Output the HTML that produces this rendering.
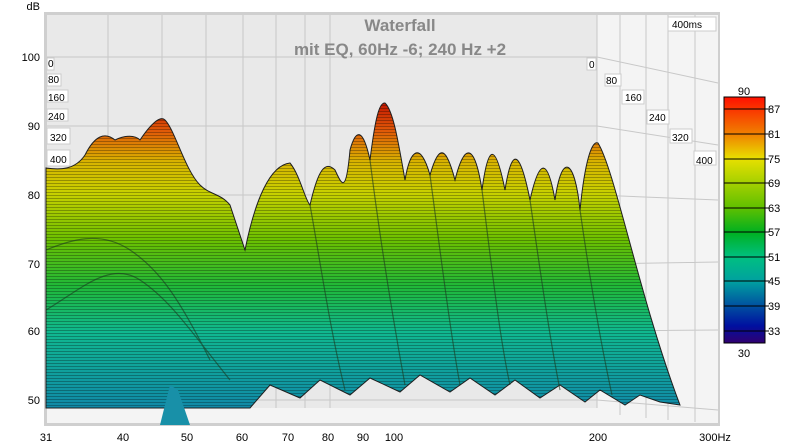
<!DOCTYPE html><html><head><meta charset="utf-8"><style>body{margin:0;background:#fff}svg{display:block;font-family:"Liberation Sans",sans-serif}</style></head><body>
<svg width="800" height="446" viewBox="0 0 800 446">
<defs>
<linearGradient id="g" gradientUnits="userSpaceOnUse" x1="0" y1="100" x2="0" y2="410">
<stop offset="0" stop-color="#c01000"/><stop offset="0.1" stop-color="#e05a08"/><stop offset="0.2" stop-color="#d8b400"/><stop offset="0.3" stop-color="#c8d000"/><stop offset="0.45" stop-color="#6cc000"/><stop offset="0.6" stop-color="#20b838"/><stop offset="0.75" stop-color="#10b890"/><stop offset="1" stop-color="#1088a8"/>
</linearGradient>
<linearGradient id="cb" x1="0" y1="0" x2="0" y2="1">
<stop offset="0" stop-color="#ff1000"/><stop offset="0.15" stop-color="#f08000"/><stop offset="0.25" stop-color="#e8e000"/><stop offset="0.45" stop-color="#60c000"/><stop offset="0.55" stop-color="#00b020"/><stop offset="0.65" stop-color="#00c080"/><stop offset="0.75" stop-color="#00a0a0"/><stop offset="0.85" stop-color="#0050a0"/><stop offset="0.93" stop-color="#0010a0"/><stop offset="1" stop-color="#300070"/>
</linearGradient>
<pattern id="st" width="4" height="3" patternUnits="userSpaceOnUse"><rect width="4" height="1" fill="#000" opacity="0.28"/></pattern>
</defs>
<rect x="44" y="12" width="676" height="414" fill="#cfcfcf"/>
<rect x="47" y="15" width="671" height="408" fill="#f4f4f4"/>
<polygon points="47,15 597,15 597,408 47,408" fill="#e9e9e9"/>
<g stroke="#c8c8c8" stroke-width="1" fill="none">
<path d="M47,57H597M47,126H597M47,195H597M47,264H597M47,331H597M47,400H597"/>
<path d="M108,15V408M162,15V408M206,15V408M243,15V408M276,15V408M305,15V408M330,15V408M597,15V408"/>
<path d="M597,57L718,83M597,126L718,145M597,195L718,200M597,264L718,262M597,331L718,330M597,400L718,410M620,15V415M646,15V418M668,15V420M695,15V422"/>
</g>
<text x="400" y="31" font-size="17" font-weight="bold" fill="#888" text-anchor="middle">Waterfall</text>
<text x="400" y="55" font-size="17" font-weight="bold" fill="#888" text-anchor="middle">mit EQ, 60Hz -6; 240 Hz +2</text>
<path d="M46,408 L46,168 C60,170 75,170 85,155 C95,135 105,132 115,140 C125,135 135,135 140,140 C150,125 160,115 165,120 C175,130 185,170 200,185 C210,195 220,193 230,205 L245,250 C255,200 270,165 290,163 C300,175 305,200 310,205 C318,170 325,160 335,170 C342,185 346,195 350,150 C356,128 363,128 370,160 C375,120 379,102 385,103 C393,110 398,140 405,180 C410,150 420,140 430,175 C440,140 447,150 455,180 C465,140 475,145 482,190 C488,145 495,140 505,190 C512,145 520,150 530,200 C540,155 548,160 555,200 C562,150 575,160 580,210 C585,160 592,140 598,143 C615,170 640,300 680,405 L660,402 L640,395 L625,405 L600,390 L585,402 L560,385 L540,398 L515,380 L495,395 L470,378 L450,392 L420,375 L400,392 L370,378 L350,395 L320,380 L300,398 L270,385 L250,408 Z" fill="url(#g)" stroke="#202020" stroke-width="1"/>
<path d="M46,408 L46,168 C60,170 75,170 85,155 C95,135 105,132 115,140 C125,135 135,135 140,140 C150,125 160,115 165,120 C175,130 185,170 200,185 C210,195 220,193 230,205 L245,250 C255,200 270,165 290,163 C300,175 305,200 310,205 C318,170 325,160 335,170 C342,185 346,195 350,150 C356,128 363,128 370,160 C375,120 379,102 385,103 C393,110 398,140 405,180 C410,150 420,140 430,175 C440,140 447,150 455,180 C465,140 475,145 482,190 C488,145 495,140 505,190 C512,145 520,150 530,200 C540,155 548,160 555,200 C562,150 575,160 580,210 C585,160 592,140 598,143 C615,170 640,300 680,405 L660,402 L640,395 L625,405 L600,390 L585,402 L560,385 L540,398 L515,380 L495,395 L470,378 L450,392 L420,375 L400,392 L370,378 L350,395 L320,380 L300,398 L270,385 L250,408 Z" fill="url(#st)"/>
<g fill="none" stroke="#1a3a20" stroke-width="1.2" opacity="0.6">
<path d="M46,310 C80,290 110,260 140,280 C170,300 190,330 230,380"/>
<path d="M46,250 C70,240 100,230 130,250 C160,270 180,300 210,360"/>
<path d="M310,205 C320,260 330,330 345,390M370,160 C380,240 395,330 405,385M430,175 C440,250 450,330 460,385M482,190 C492,270 500,340 510,385M530,200 C540,270 550,340 560,390M580,210 C590,280 600,340 612,395"/>
</g>
<path d="M160,425 L170,385 L178,390 L190,425 Z" fill="#1890a8"/>
<g font-size="11" fill="#000">
<text x="40" y="10" text-anchor="end">dB</text>
<text x="40" y="61" text-anchor="end">100</text><text x="40" y="130" text-anchor="end">90</text><text x="40" y="199" text-anchor="end">80</text><text x="40" y="268" text-anchor="end">70</text><text x="40" y="335" text-anchor="end">60</text><text x="40" y="404" text-anchor="end">50</text>
<text x="46" y="441" text-anchor="middle">31</text><text x="123" y="441" text-anchor="middle">40</text><text x="187" y="441" text-anchor="middle">50</text><text x="242" y="441" text-anchor="middle">60</text><text x="288" y="441" text-anchor="middle">70</text><text x="328" y="441" text-anchor="middle">80</text><text x="363" y="441" text-anchor="middle">90</text><text x="394" y="441" text-anchor="middle">100</text><text x="598" y="441" text-anchor="middle">200</text><text x="715" y="441" text-anchor="middle">300Hz</text>
</g>
<g font-size="10" fill="#000" stroke="none">
<rect x="47" y="58" width="7" height="12" fill="#fff" stroke="#ccc"/><text x="48" y="67">0</text>
<rect x="47" y="74" width="14" height="12" fill="#fff" stroke="#ccc"/><text x="48" y="83">80</text>
<rect x="47" y="90" width="21" height="12" fill="#fff" stroke="#ccc"/><text x="48" y="101">160</text>
<rect x="47" y="109" width="21" height="12" fill="#fff" stroke="#ccc"/><text x="48" y="120">240</text>
<rect x="47" y="128" width="23" height="16" fill="#fff" stroke="#ccc"/><text x="50" y="141">320</text>
<rect x="47" y="150" width="23" height="16" fill="#fff" stroke="#ccc"/><text x="50" y="163">400</text>
<rect x="668" y="17" width="48" height="14" fill="#fff" stroke="#ccc"/><text x="672" y="28">400ms</text>
<rect x="587" y="58" width="9" height="12" fill="#fff" stroke="#ccc"/><text x="589" y="68">0</text>
<rect x="605" y="74" width="16" height="12" fill="#fff" stroke="#ccc"/><text x="606" y="84">80</text>
<rect x="622" y="90" width="22" height="14" fill="#fff" stroke="#ccc"/><text x="625" y="101">160</text>
<rect x="647" y="110" width="22" height="14" fill="#fff" stroke="#ccc"/><text x="649" y="121">240</text>
<rect x="670" y="129" width="22" height="14" fill="#fff" stroke="#ccc"/><text x="672" y="141">320</text>
<rect x="694" y="151" width="22" height="14" fill="#fff" stroke="#ccc"/><text x="696" y="164">400</text>
</g>
<rect x="724" y="97" width="41" height="246" fill="url(#cb)" stroke="#000"/>
<g stroke="#000"><path d="M724,109H769M724,134H769M724,159H769M724,183H769M724,208H769M724,232H769M724,257H769M724,281H769M724,306H769M724,331H769"/></g>
<g font-size="11" fill="#000"><text x="744" y="95" text-anchor="middle">90</text><text x="744" y="357" text-anchor="middle">30</text>
<text x="768" y="113">87</text><text x="768" y="138">81</text><text x="768" y="163">75</text><text x="768" y="187">69</text><text x="768" y="212">63</text><text x="768" y="236">57</text><text x="768" y="261">51</text><text x="768" y="285">45</text><text x="768" y="310">39</text><text x="768" y="335">33</text></g>
</svg>
</body></html>
